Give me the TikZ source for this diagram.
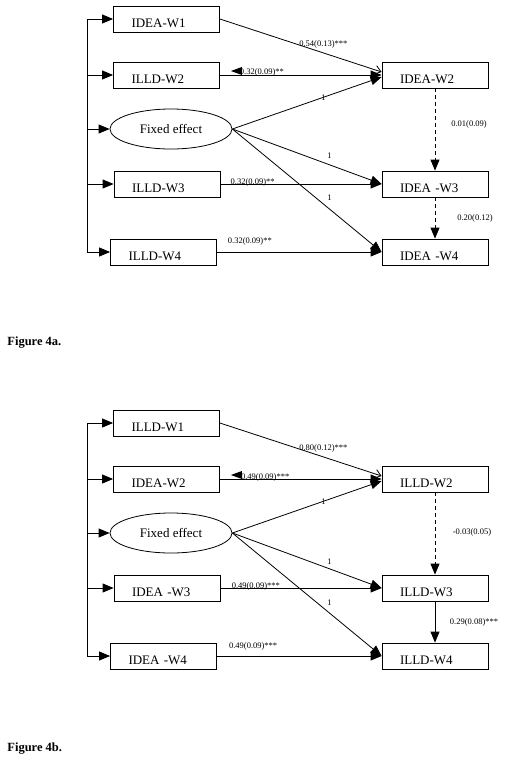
\documentclass[tikz,border=0pt]{standalone}
\usepackage{fontspec}
\setmainfont{Liberation Serif}
\usetikzlibrary{arrows.meta,shapes.geometric}

\begin{document}
\begin{tikzpicture}[x=1pt,y=-1pt,>={Triangle[length=11pt,width=9pt]},
                    line width=0.8pt]
  \tikzstyle{obsbox}=[draw,rectangle,text width=70pt,inner xsep=18pt,inner ysep=3pt,
                      minimum height=26pt,text height=17pt,text depth=0pt,align=left,
                      font=\fontsize{13}{15}\selectfont]
  \tikzstyle{fixbox}=[draw,ellipse,minimum width=122pt,minimum height=40pt,inner sep=0pt,
                      font=\fontsize{13}{15}\selectfont]
  \tikzstyle{coef}=[font=\fontsize{8.5}{10}\selectfont,inner sep=0pt]
  \tikzstyle{openhead}=[-{Straight Barb[length=6pt,width=9pt]}]
  \tikzstyle{lagline}=[dash pattern=on 4pt off 3pt]
  \tikzstyle{figcap}=[anchor=west,inner sep=0pt,font=\bfseries\fontsize{12.5}{15}\selectfont]

  \useasboundingbox (0,0) rectangle (504,761);

  % Figure 4a
  \node[obsbox]  (a1)  at (166.5,19)  {IDEA-W1};
  \node[obsbox]  (a2)  at (166.5,75)  {ILLD-W2};
  \node[fixbox]  (af)  at (171,129)   {Fixed effect};
  \node[obsbox]  (a3)  at (167,184)   {ILLD-W3};
  \node[obsbox]  (a4)  at (163.5,252) {ILLD-W4};
  \node[obsbox]  (ya2) at (435,75)    {IDEA-W2};
  \node[obsbox]  (ya3) at (435,184)   {IDEA -W3};
  \node[obsbox]  (ya4) at (435,252)   {IDEA -W4};
  \coordinate    (abus) at (87,19);

  \draw (abus) -- (abus |- a4.west);
  \draw[->] (abus) -- (a1.west);
  \draw[->] (abus |- a2.west) -- (a2.west);
  \draw[->] (abus |- af.west) -- (af.west);
  \draw[->] (abus |- a3.west) -- (a3.west);
  \draw[->] (abus |- a4.west) -- (a4.west);

  \path[->] (a1.east)  edge[openhead] node[coef,pos=.64,yshift=8pt]  {0.54(0.13)***} ([yshift=3pt]ya2.west)
            (a2.east)  edge           node[coef,pos=.26,yshift=3pt]  {0.32(0.09)**}  (ya2.west)
            (af.east)  edge           node[coef,pos=.61]             {1}             ([yshift=-2pt]ya2.west)
                       edge           node[coef,pos=.65,yshift=9pt]  {1}             (ya3.west)
                       edge           node[coef,pos=.65,yshift=11pt] {1}             (ya4.west)
            (a3.east)  edge           node[coef,pos=.2,yshift=2pt]   {0.32(0.09)**}  (ya3.west)
            (a4.east)  edge           node[coef,pos=.2,yshift=11pt]  {0.32(0.09)**}  (ya4.west)
            (ya2.south) edge[lagline] node[coef,xshift=34pt,yshift=5pt] {0.01(0.09)} (ya3.north)
            (ya3.south) edge[lagline] node[coef,xshift=40pt]         {0.20(0.12)}    (ya4.north);
  \fill ([shift={(11pt,4pt)}]a2.east) -- ++(11,-4) -- ++(0,8) -- cycle;

  \node[figcap] (capa) at (7,343) {Figure 4a.};

  % Figure 4b
  \begin{scope}[yshift=-404pt]
  \node[obsbox]  (b1)  at (166.5,19)  {ILLD-W1};
  \node[obsbox]  (b2)  at (166.5,75)  {IDEA-W2};
  \node[fixbox]  (bf)  at (171,129)   {Fixed effect};
  \node[obsbox]  (b3)  at (167,184)   {IDEA -W3};
  \node[obsbox]  (b4)  at (163.5,252) {IDEA -W4};
  \node[obsbox]  (yb2) at (435,75)    {ILLD-W2};
  \node[obsbox]  (yb3) at (435,184)   {ILLD-W3};
  \node[obsbox]  (yb4) at (435,252)   {ILLD-W4};
  \coordinate    (bbus) at (87,19);

  \draw (bbus) -- (bbus |- b4.west);
  \draw[->] (bbus) -- (b1.west);
  \draw[->] (bbus |- b2.west) -- (b2.west);
  \draw[->] (bbus |- bf.west) -- (bf.west);
  \draw[->] (bbus |- b3.west) -- (b3.west);
  \draw[->] (bbus |- b4.west) -- (b4.west);

  \path[->] (b1.east)  edge[openhead] node[coef,pos=.64,yshift=8pt]  {0.80(0.12)***} ([yshift=3pt]yb2.west)
            (b2.east)  edge           node[coef,pos=.28,yshift=2pt]  {0.49(0.09)***} (yb2.west)
            (bf.east)  edge           node[coef,pos=.61]             {1}             ([yshift=-2pt]yb2.west)
                       edge           node[coef,pos=.65,yshift=7pt]  {1}             (yb3.west)
                       edge           node[coef,pos=.65,yshift=10pt] {1}             (yb4.west)
            (b3.east)  edge           node[coef,pos=.22,yshift=2pt]  {0.49(0.09)***} (yb3.west)
            (b4.east)  edge           node[coef,pos=.22,yshift=10pt] {0.49(0.09)***} (yb4.west)
            (yb2.south) edge[lagline] node[coef,xshift=37pt,yshift=1pt] {-0.03(0.05)} (yb3.north)
            (yb3.south) edge          node[coef,xshift=39pt]         {0.29(0.08)***} (yb4.north);
  \fill ([shift={(11pt,4pt)}]b2.east) -- ++(11,-4) -- ++(0,8) -- cycle;
  \end{scope}

  \node[figcap] (capb) at (7,749) {Figure 4b.};
\end{tikzpicture}
\end{document}
